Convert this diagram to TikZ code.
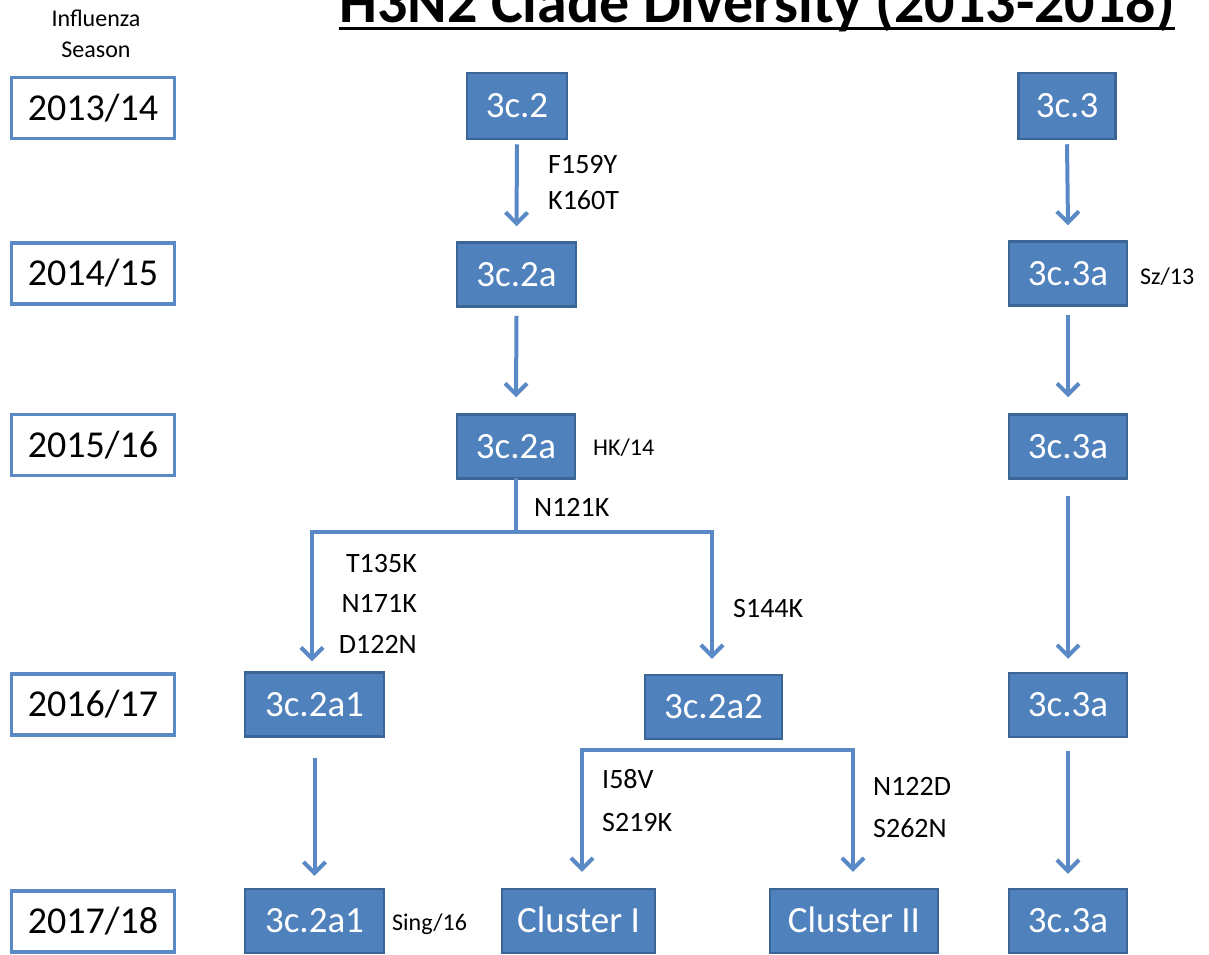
\documentclass[tikz,border=0pt]{standalone}
\usepackage{fontspec}
\setmainfont{Carlito}
\usetikzlibrary{arrows.meta}
\definecolor{cladefill}{HTML}{4F81BD}
\definecolor{cladeborder}{HTML}{3B6497}
\definecolor{arrowblue}{HTML}{5A8AC6}
\definecolor{yearborder}{HTML}{5A8AC6}
\tikzset{
  clade/.style={draw=cladeborder, fill=cladefill, line width=2.5pt, text=white,
    font=\fontsize{37}{44}\selectfont, minimum height=64pt, inner sep=0pt,
    text height=23.5pt, text depth=0pt},
  yearbox/.style={draw=yearborder, fill=white, line width=3.5pt, text=black,
    font=\fontsize{38}{45}\selectfont, minimum width=163pt, minimum height=61pt, inner sep=0pt,
    text height=24pt, text depth=0pt},
  mut/.style={font=\fontsize{28}{33}\selectfont, inner sep=0pt, text=black},
  strain/.style={font=\fontsize{24}{28}\selectfont, inner sep=0pt, text=black},
  arr/.style={draw=arrowblue, line width=4pt, -{Straight Barb[length=11pt,width=22pt,line width=4pt]}},
  conn/.style={draw=arrowblue, line width=4pt, line cap=rect}
}
\begin{document}
\begin{tikzpicture}[x=1pt,y=-1pt]
\useasboundingbox (0,0) rectangle (1209,954);
% title
\node[font=\fontsize{60}{70}\selectfont\bfseries, anchor=base, inner sep=0pt] (title) at (757,22) {H3N2 Clade Diversity (2013-2018)};
\draw[line width=3.5pt] (title.west |- 0,28.5) -- (title.east |- 0,28.5);
\node[font=\fontsize{24}{28}\selectfont, inner sep=0pt] (infl) at (96,18) {Influenza};
\node[font=\fontsize{24}{28}\selectfont, inner sep=0pt] (seas) at (96,50) {Season};
% season boxes
\node[yearbox] (y1) at (93,108) {2013/14};
\node[yearbox] (y2) at (93,273.5) {2014/15};
\node[yearbox] (y3) at (93,445) {2015/16};
\node[yearbox] (y4) at (93,704.5) {2016/17};
\node[yearbox] (y5) at (93,921.5) {2017/18};
% clade boxes
\node[clade, minimum width=100pt, minimum height=66pt] (c32) at (517,106) {3c.2};
\node[clade, minimum width=97pt, minimum height=66pt] (c33) at (1067,106) {3c.3};
\node[clade, minimum width=119pt] (c32a) at (516.5,274.5) {3c.2a};
\node[clade, minimum width=118pt] (c33a) at (1068,273.5) {3c.3a};
\node[clade, minimum width=118pt] (c32b) at (516,446.5) {3c.2a};
\node[clade, minimum width=118pt] (c33b) at (1068,446.5) {3c.3a};
\node[clade, minimum width=139pt] (c2a1) at (314.5,704.5) {3c.2a1};
\node[clade, minimum width=137pt] (c2a2) at (713.5,707) {3c.2a2};
\node[clade, minimum width=118pt] (c33c) at (1068,705) {3c.3a};
\node[clade, minimum width=139pt] (c2a1b) at (314.5,921) {3c.2a1};
\node[clade, minimum width=153pt] (cl1) at (578.5,921) {Cluster I};
\node[clade, minimum width=168pt] (cl2) at (854,921) {Cluster II};
\node[clade, minimum width=118pt] (c33d) at (1068,921) {3c.3a};
% strain labels
\node[strain, anchor=base west] (sz) at (1140,284) {Sz/13};
\node[strain, anchor=base west] (hk) at (593,455) {HK/14};
\node[strain, anchor=base west] (sing) at (392,930) {Sing/16};
% mutation labels
\node[mut, anchor=base west] (m1) at (548,173) {F159Y};
\node[mut, anchor=base west] (m2) at (548,209) {K160T};
\node[mut, anchor=base west] (m3) at (534,516) {N121K};
\node[mut, anchor=base east] (m4) at (417,572) {T135K};
\node[mut, anchor=base east] (m5) at (417,612) {N171K};
\node[mut, anchor=base east] (m6) at (417,653) {D122N};
\node[mut, anchor=base west] (m7) at (733,617) {S144K};
\node[mut, anchor=base west] (m8) at (602,788) {I58V};
\node[mut, anchor=base west] (m9) at (602,831) {S219K};
\node[mut, anchor=base west] (m10) at (873,795) {N122D};
\node[mut, anchor=base west] (m11) at (873,837) {S262N};
% branch coordinates
\coordinate (bj) at (516,532);
\coordinate (bl) at (312,532);
\coordinate (br) at (712,532);
\coordinate (cl) at (582,750);
\coordinate (cr) at (853,750);
% arrows
\draw[arr] ([yshift=-4pt]c32.south) -- ([yshift=15pt]c32a.north);
\draw[arr] ([yshift=-4pt]c33.south) -- ([yshift=15pt]c33a.north);
\draw[arr] ([yshift=-8pt]c32a.south) -- ([yshift=16pt]c32b.north);
\draw[arr] ([yshift=-8pt]c33a.south) -- ([yshift=16pt]c33b.north);
\draw[arr] ([yshift=-16pt]c33b.south) -- ([yshift=13pt]c33c.north);
\draw[arr] ([yshift=-20pt]c2a1.south) -- ([yshift=12pt]c2a1b.north);
\draw[arr] ([yshift=-13pt]c33c.south) -- ([yshift=14pt]c33d.north);
% branch 3c.2a -> 3c.2a1 / 3c.2a2
\draw[conn] (c32b.south) -- (bj);
\draw[conn] (bl) -- (br);
\draw[arr] (bl) -- ([yshift=10pt]c2a1.north -| bl);
\draw[arr] (br) -- ([yshift=15pt]c2a2.north -| br);
% branch 3c.2a2 -> clusters
\draw[conn] (cl) -- (cr);
\draw[arr] (cl) -- ([yshift=16pt]cl1.north -| cl);
\draw[arr] (cr) -- ([yshift=16pt]cl2.north -| cr);
\end{tikzpicture}
\end{document}
